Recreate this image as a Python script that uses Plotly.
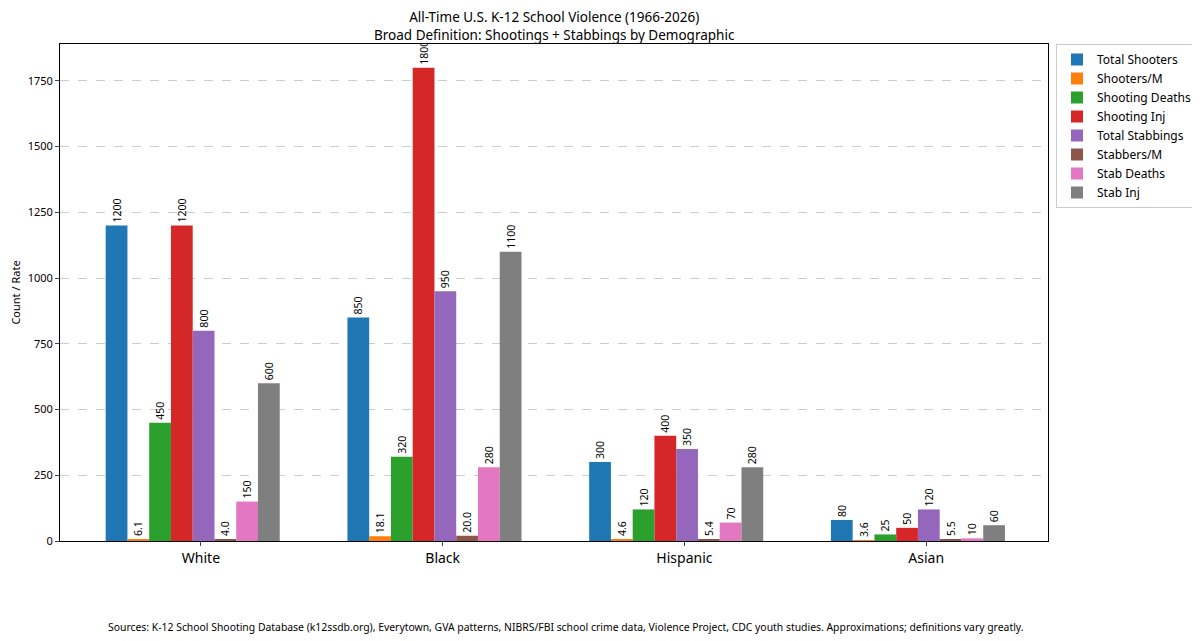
import plotly.graph_objects as go

groups = ["White", "Black", "Hispanic", "Asian"]

series_names = ["Total Shooters", "Shooters/M", "Shooting Deaths", "Shooting Inj",
                "Total Stabbings", "Stabbers/M", "Stab Deaths", "Stab Inj"]

total_shooters = [1200, 850, 300, 80]
shooters_per_m = [6.1, 18.1, 4.6, 3.6]
shooting_deaths = [450, 320, 120, 25]
shooting_inj = [1200, 1800, 400, 50]
total_stabbings = [800, 950, 350, 120]
stabbers_per_m = [4.0, 20.0, 5.4, 5.5]
stab_deaths = [150, 280, 70, 10]
stab_inj = [600, 1100, 280, 60]

series_values = [total_shooters, shooters_per_m, shooting_deaths, shooting_inj,
                 total_stabbings, stabbers_per_m, stab_deaths, stab_inj]
rate_series = {"Shooters/M", "Stabbers/M"}

colorlist = ["#1f77b4", "#ff7f0e", "#2ca02c", "#d62728",
             "#9467bd", "#8c564b", "#e377c2", "#7f7f7f"]

font = "Noto Sans"
bar_w = 0.09
first_offset = -0.394

x_pos = list(range(len(groups)))

fig = go.Figure()
for i, (name, vals) in enumerate(zip(series_names, series_values)):
    if name in rate_series:
        labels = [f"{v:.1f}" for v in vals]
    else:
        labels = [f"{v:g}" for v in vals]
    fig.add_trace(go.Bar(
        x=x_pos, y=vals, name=name,
        width=bar_w, offset=first_offset + i * bar_w,
        marker=dict(color=colorlist[i], line=dict(width=0)),
        text=labels, textposition="outside", textangle=-90,
        constraintext="none", cliponaxis=True,
        textfont=dict(size=10.5, color="black", family=font),
    ))

# the page body adds an 8px margin, so the figure is 8px smaller and margins shifted
fig.update_layout(
    width=1192, height=633,
    paper_bgcolor="white", plot_bgcolor="white",
    barmode="overlay",
    margin=dict(l=52, r=152, t=36, b=100, autoexpand=False),
    font=dict(family=font, color="black"),
    legend=dict(
        xref="container", yref="paper",
        x=0.8792, y=1.0, xanchor="left", yanchor="top",
        bordercolor="#cccccc", borderwidth=1,
        font=dict(size=12, family=font),
        tracegroupgap=0,
    ),
    showlegend=True,
)

fig.add_annotation(
    text="All-Time U.S. K-12 School Violence (1966-2026)<br>Broad Definition: Shootings + Stabbings by Demographic",
    xref="paper", yref="paper", x=0.5, y=1.037, xanchor="center", yanchor="middle",
    showarrow=False, font=dict(size=13.5, family=font),
)

fig.update_xaxes(
    range=[-0.583, 3.504],
    tickvals=x_pos, ticktext=groups,
    tickfont=dict(size=14), ticks="outside", ticklen=4,
    showgrid=False, zeroline=False, automargin=False,
    showline=True, linecolor="black", linewidth=1, mirror=True,
)
fig.update_yaxes(
    range=[0, 1890],
    tickvals=[0, 250, 500, 750, 1000, 1250, 1500, 1750],
    tickfont=dict(size=11), ticks="outside", ticklen=4,
    title=dict(text="Count / Rate", font=dict(size=11), standoff=8),
    showgrid=True, gridcolor="#cccccc", griddash="dash", gridwidth=1,
    zeroline=False, automargin=False,
    showline=True, linecolor="black", linewidth=1, mirror=True,
)

fig.add_annotation(
    text="Sources: K-12 School Shooting Database (k12ssdb.org), Everytown, GVA patterns, NIBRS/FBI school crime data, Violence Project, CDC youth studies. Approximations; definitions vary greatly.",
    xref="paper", yref="paper", x=0.512, y=-0.173, xanchor="center", yanchor="middle",
    showarrow=False, font=dict(size=10.4, family=font),
)

fig.write_html("out.html")
